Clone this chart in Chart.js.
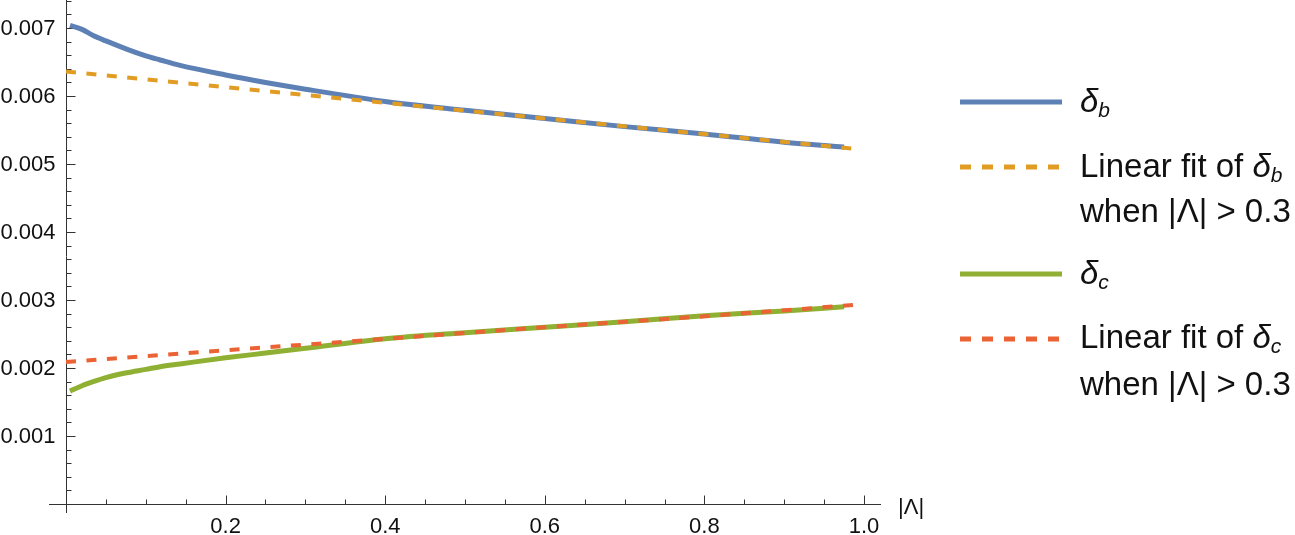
<!DOCTYPE html>
<html>
<head>
<meta charset="utf-8">
<script src="https://cdn.jsdelivr.net/npm/chart.js@4.4.0/dist/chart.umd.min.js"></script>
<style>
  html, body { margin: 0; padding: 0; background: #fff; }
  #wrap { width: 1295px; height: 535px; }
</style>
</head>
<body>
<div id="wrap"><canvas id="deltaChart"></canvas></div>
<script>
// values
var lambdaB = [0.005, 0.02, 0.034, 0.05, 0.076, 0.1, 0.118, 0.143, 0.2, 0.25, 0.3, 0.4, 0.5, 0.6, 0.7, 0.8, 0.9, 0.975];
var deltaB  = [0.00704, 0.00698, 0.00689, 0.00681, 0.00669, 0.00659, 0.00653, 0.00645, 0.00631, 0.00620, 0.00610, 0.00592, 0.00579, 0.00567, 0.00555, 0.00544, 0.00532, 0.00525];

var lambdaFitB = [0, 0.2, 0.4, 0.6, 0.8, 0.99];
var fitB       = [0.00636, 0.00613, 0.00590, 0.00567, 0.00544, 0.00522];

var lambdaC = [0.005, 0.02, 0.034, 0.05, 0.076, 0.1, 0.118, 0.143, 0.2, 0.25, 0.3, 0.4, 0.5, 0.6, 0.7, 0.8, 0.9, 0.975];
var deltaC  = [0.00166, 0.00174, 0.00180, 0.00186, 0.00193, 0.00198, 0.00202, 0.00206, 0.00215, 0.00222, 0.00229, 0.00243, 0.00252, 0.00260, 0.00268, 0.00277, 0.00284, 0.00290];

var lambdaFitC = [0, 0.2, 0.4, 0.6, 0.8, 0.99];
var fitC       = [0.00209, 0.00226, 0.00243, 0.00260, 0.00276, 0.00293];

var xTickLabels = [0.2, 0.4, 0.6, 0.8, 1.0];
var yTickLabels = [0.001, 0.002, 0.003, 0.004, 0.005, 0.006, 0.007];

var blue = "#5E81B5", orange = "#E19C24", green = "#8FB032", red = "#EB6235";

function pts(xs, ys) {
  return xs.map(function (x, i) { return { x: x, y: ys[i] }; });
}

// mathematica-like axes crossing at the origin
var axesPlugin = {
  id: "axes",
  beforeDatasetsDraw: function (chart) {
    var c = chart.ctx, xs = chart.scales.x, ys = chart.scales.y, a = chart.chartArea;
    var x0 = Math.round(xs.getPixelForValue(0)) + 0.5;
    var y0 = Math.round(ys.getPixelForValue(0)) + 0.5;
    c.save();
    c.strokeStyle = "#333";
    c.lineWidth = 1;
    c.beginPath();
    c.moveTo(a.left, y0); c.lineTo(a.right, y0);
    c.moveTo(x0, a.top); c.lineTo(x0, a.bottom);
    // x ticks
    for (var i = 1; i <= 20; i++) {
      var v = i * 0.05;
      var px = Math.round(xs.getPixelForValue(v)) + 0.5;
      var len = (i % 4 === 0) ? 9 : 5;
      c.moveTo(px, y0); c.lineTo(px, y0 - len);
    }
    // y ticks
    for (var j = 1; j <= 37; j++) {
      var w = j * 0.0002;
      var py = Math.round(ys.getPixelForValue(w)) + 0.5;
      var l2 = (j % 5 === 0) ? 9 : 5;
      c.moveTo(x0, py); c.lineTo(x0 + l2, py);
    }
    c.stroke();

    c.fillStyle = "#111";
    c.font = "22px 'Liberation Sans', Arial, sans-serif";
    c.textAlign = "center";
    c.textBaseline = "alphabetic";
    xTickLabels.forEach(function (t) {
      c.fillText(t.toFixed(1), xs.getPixelForValue(t), 533);
    });
    c.textAlign = "right";
    c.textBaseline = "middle";
    yTickLabels.forEach(function (t) {
      c.fillText(t.toFixed(3), x0 - 11, ys.getPixelForValue(t) + 1);
    });
    c.textAlign = "left";
    c.fillText("|\u039B|", 898, 508);
    c.restore();
  }
};

function drawDelta(c, x, y, sub) {
  c.font = "italic 33px 'Liberation Sans', Arial, sans-serif";
  c.fillText("\u03B4", x, y);
  var w = c.measureText("\u03B4").width;
  c.font = "italic 21px 'Liberation Sans', Arial, sans-serif";
  c.fillText(sub, x + w, y + 5);
}

var legendPlugin = {
  id: "mmaLegend",
  afterDraw: function (chart) {
    var c = chart.ctx;
    var ds = chart.data.datasets;
    var rows = [
      { y: 102, d: ds[0] },
      { y: 167, d: ds[1] },
      { y: 274, d: ds[2] },
      { y: 339, d: ds[3] }
    ];
    c.save();
    rows.forEach(function (r) {
      c.beginPath();
      c.strokeStyle = r.d.borderColor;
      c.lineWidth = 5;
      c.setLineDash(r.d.borderDash ? [11, 11] : []);
      c.moveTo(960, r.y); c.lineTo(1062, r.y);
      c.stroke();
    });
    c.setLineDash([]);
    c.fillStyle = "#111";
    c.textAlign = "left";
    c.textBaseline = "alphabetic";
    var tx = 1080;
    drawDelta(c, tx, 112, "b");
    c.font = "33px 'Liberation Sans', Arial, sans-serif";
    c.fillText("Linear fit of ", tx, 177);
    var w1 = c.measureText("Linear fit of ").width;
    drawDelta(c, tx + w1, 177, "b");
    c.font = "33px 'Liberation Sans', Arial, sans-serif";
    c.fillText("when |\u039B| > 0.3", tx, 222);

    drawDelta(c, tx, 284, "c");
    c.font = "33px 'Liberation Sans', Arial, sans-serif";
    c.fillText("Linear fit of ", tx, 348);
    drawDelta(c, tx + w1, 348, "c");
    c.font = "33px 'Liberation Sans', Arial, sans-serif";
    c.fillText("when |\u039B| > 0.3", tx, 395);
    c.restore();
  }
};

new Chart(document.getElementById("deltaChart"), {
  type: "line",
  data: {
    datasets: [
      { label: "δb", data: pts(lambdaB, deltaB), borderColor: blue, borderWidth: 5, cubicInterpolationMode: "monotone", order: 2 },
      { label: "Linear fit of δb", data: pts(lambdaFitB, fitB), borderColor: orange, borderWidth: 4, borderDash: [10, 10.5], order: 0 },
      { label: "δc", data: pts(lambdaC, deltaC), borderColor: green, borderWidth: 5, cubicInterpolationMode: "monotone", order: 2 },
      { label: "Linear fit of δc", data: pts(lambdaFitC, fitC), borderColor: red, borderWidth: 4, borderDash: [10, 10.5], order: 0 }
    ]
  },
  options: {
    responsive: true,
    maintainAspectRatio: false,
    animation: false,
    layout: { padding: { left: 49, right: 414, top: 0, bottom: 22 } },
    elements: { point: { radius: 0 }, line: { fill: false, borderCapStyle: "butt" } },
    scales: {
      x: { type: "linear", min: -0.0213, max: 1.0213, display: false },
      y: { type: "linear", min: -0.000132, max: 0.007412, display: false }
    },
    plugins: {
      legend: { display: false },
      tooltip: { enabled: false }
    }
  },
  plugins: [axesPlugin, legendPlugin]
});
</script>
</body>
</html>
